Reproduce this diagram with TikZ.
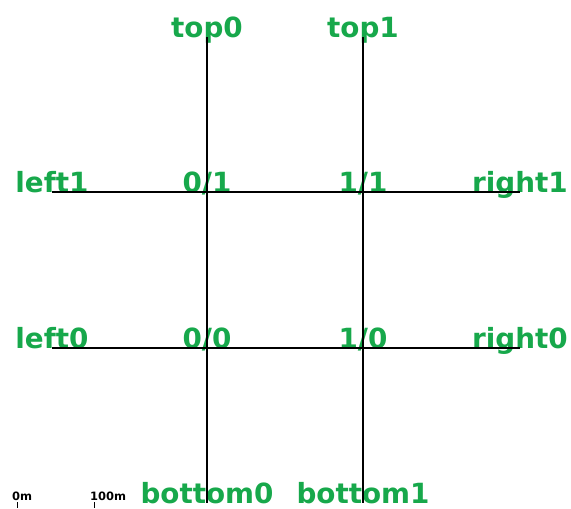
\documentclass[tikz,border=0pt]{standalone}
\usepackage{fontspec}
\setmainfont{DejaVu Sans}
\usepackage{xcolor}
\usetikzlibrary{positioning}
\definecolor{ink}{HTML}{000000}
\definecolor{jGreen}{HTML}{17A84B}
\tikzset{
  road/.style={draw=ink, line width=2pt},
  jname/.style={anchor=base, inner sep=0pt, text=jGreen, font=\bfseries\fontsize{27.8}{30}\selectfont},
  sbar/.style={anchor=base west, inner sep=0pt, text=ink, font=\bfseries\fontsize{11.5}{12}\selectfont},
}

\begin{document}
\begin{tikzpicture}[x=1pt, y=-1pt]
\useasboundingbox (0,0) rectangle (571,509);
% junctions of the grid
\coordinate (j00) at (207,348);
\coordinate (j10) at (363,348);
\coordinate (j01) at (207,192);
\coordinate (j11) at (363,192);
% fringe nodes
\coordinate (top0) at (207,37);
\coordinate (top1) at (363,37);
\coordinate (bottom0) at (207,503);
\coordinate (bottom1) at (363,503);
\coordinate (left0) at (52,348);
\coordinate (left1) at (52,192);
\coordinate (right0) at (520,348);
\coordinate (right1) at (520,192);
% names
\foreach \n/\t in {j00/{0/0}, j10/{1/0}, j01/{0/1}, j11/{1/1}} \node[jname] (l\n) at (\n) {\t};
\foreach \n in {top0,top1,bottom0,bottom1,left0,left1,right0,right1} \node[jname] (l\n) at (\n) {\n};
% roads
\draw[road] (top0) -- (j01) -- (j00) -- (bottom0);
\draw[road] (top1) -- (j11) -- (j10) -- (bottom1);
\draw[road] (left1) -- (j01) -- (j11) -- (right1);
\draw[road] (left0) -- (j00) -- (j10) -- (right0);
% scale bar
\coordinate (s0) at (17,502);
\coordinate (s1) at (94,502);
\draw[ink, line width=0.8pt] (s0) -- ++(0,6);
\draw[ink, line width=0.8pt] (s1) -- ++(0,6);
\node[sbar] (s0l) at ([xshift=-5pt, yshift=2pt]s0) {0m};
\node[sbar] (s1l) at ([xshift=-4pt, yshift=2pt]s1) {100m};
\end{tikzpicture}
\end{document}
